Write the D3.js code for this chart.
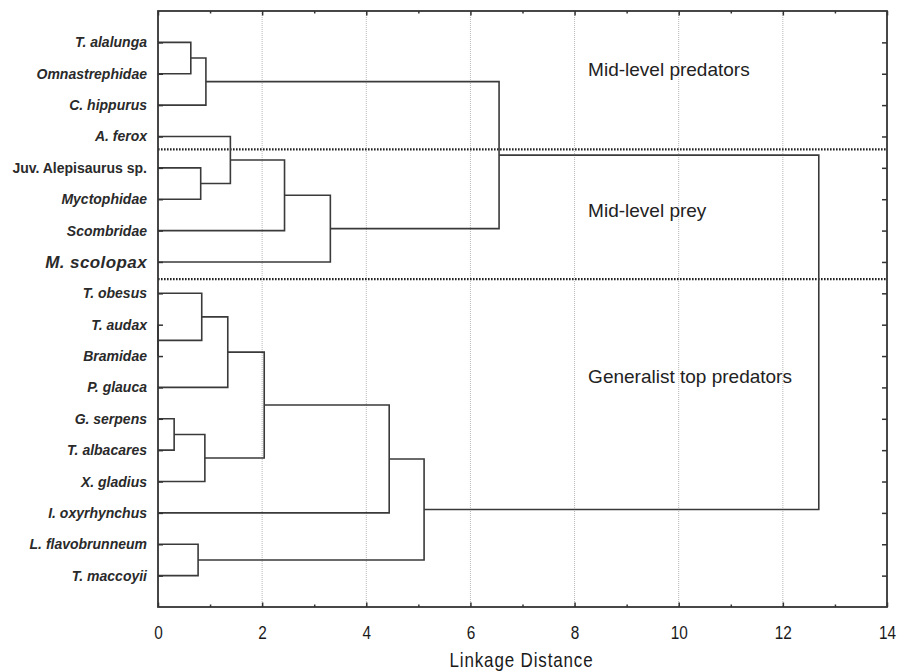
<!DOCTYPE html>
<html>
<head>
<meta charset="utf-8">
<script src="https://cdn.jsdelivr.net/npm/d3@7"></script>
<style>
  html, body { margin: 0; padding: 0; background: #fff; }
  svg { display: block; }
</style>
</head>
<body>
<svg id="chart" width="907" height="672"></svg>
<script>
// ---- data ----
const leaves = ["T. alalunga", "Omnastrephidae", "C. hippurus", "A. ferox",
  "Juv. Alepisaurus sp.", "Myctophidae", "Scombridae", "M. scolopax",
  "T. obesus", "T. audax", "Bramidae", "P. glauca", "G. serpens",
  "T. albacares", "X. gladius", "I. oxyrhynchus", "L. flavobrunneum", "T. maccoyii"];
const italicLeaf = [true, true, true, true, false, true, true, true, true, true, true, true, true, true, true, true, true, true];
// linkage: cluster ids >= 18 refer to earlier merges (18 + row index)
const mergeLeft   = [0, 18, 4, 3, 21, 22, 19, 9, 8, 26, 12, 28, 27, 30, 16, 31, 24];
const mergeRight  = [1, 2, 5, 20, 6, 7, 23, 10, 25, 11, 13, 14, 29, 15, 17, 32, 33];
const mergeHeight = [0.63, 0.92, 0.82, 1.39, 2.43, 3.31, 6.55, 0.0, 0.84, 1.34, 0.31, 0.90, 2.04, 4.44, 0.77, 5.11, 12.69];
const xTicksMajor = [0, 2, 4, 6, 8, 10, 12, 14];
const xTicksMinor = [1, 3, 5, 7, 9, 11, 13];
const xTitle = "Linkage Distance";
const separators = [3.41, 7.55];            // positions in leaf-index units
const groupNames = ["Mid-level predators", "Mid-level prey", "Generalist top predators"];
const groupPos   = [0.85, 5.34, 10.64];      // leaf-index units
const groupX     = 8.26;                     // linkage-distance units

// ---- layout ----
const W = 907, H = 672;
const margin = {left: 158, top: 11, right: 20, bottom: 65};
const svg = d3.select("#chart");
const x = d3.scaleLinear().domain([0, 14]).range([margin.left, W - margin.right]);
const y = d3.scaleLinear().domain([-1, leaves.length]).range([margin.top, H - margin.bottom]);
const ink = "#333";
const sans = "'Liberation Sans', Arial, sans-serif";

// gridlines
svg.append("g").selectAll("line").data(xTicksMajor.filter(d => d > 0 && d < 14)).join("line")
  .attr("x1", d => x(d)).attr("x2", d => x(d))
  .attr("y1", y.range()[0]).attr("y2", y.range()[1])
  .attr("stroke", "#b8b8b8").attr("stroke-width", 1).attr("stroke-dasharray", "1,1");

// separators
svg.append("g").selectAll("line").data(separators).join("line")
  .attr("x1", x(0)).attr("x2", x(14))
  .attr("y1", d => y(d)).attr("y2", d => y(d))
  .attr("stroke", "#222").attr("stroke-width", 2.2).attr("stroke-dasharray", "1.6,1.4");

// dendrogram
const nodeY = leaves.map((_, i) => i);
const nodeH = leaves.map(() => 0);
mergeLeft.forEach((a, k) => {
  const b = mergeRight[k], h = mergeHeight[k];
  nodeY.push((nodeY[a] + nodeY[b]) / 2);
  nodeH.push(h);
});
const links = mergeLeft.map((a, k) => {
  const b = mergeRight[k], h = mergeHeight[k];
  return [[nodeH[a], nodeY[a]], [h, nodeY[a]], [h, nodeY[b]], [nodeH[b], nodeY[b]]];
});
const line = d3.line().x(d => x(d[0])).y(d => y(d[1]));
svg.append("g").selectAll("path").data(links).join("path")
  .attr("d", line).attr("fill", "none").attr("stroke", "#3a3a3a").attr("stroke-width", 1.6);

// axes
const bottom = svg.append("g").attr("transform", `translate(0,${y.range()[1]})`)
  .call(d3.axisBottom(x).tickValues(xTicksMajor).tickSizeInner(-4.5).tickSizeOuter(0).tickFormat(d3.format("d")));
bottom.selectAll("text").attr("font-family", sans).attr("font-size", 18.5).attr("fill", "#1a1a1a")
  .attr("y", 0).attr("dy", 0).attr("transform", "translate(0,32) scale(0.83,1)");
svg.append("g").attr("transform", `translate(0,${y.range()[1]})`)
  .call(d3.axisBottom(x).tickValues(xTicksMinor).tickSizeInner(-2.5).tickSizeOuter(0).tickFormat(""));
svg.append("g").attr("transform", `translate(0,${y.range()[0]})`)
  .call(d3.axisTop(x).tickValues(xTicksMajor).tickSizeInner(-4.5).tickSizeOuter(0).tickFormat(""));
svg.append("g").attr("transform", `translate(0,${y.range()[0]})`)
  .call(d3.axisTop(x).tickValues(xTicksMinor).tickSizeInner(-2.5).tickSizeOuter(0).tickFormat(""));

const left = svg.append("g").attr("transform", `translate(${x(0)},0)`)
  .call(d3.axisLeft(y).tickValues(d3.range(leaves.length)).tickSizeInner(-5).tickSizeOuter(0).tickPadding(11).tickFormat(i => leaves[i]));
left.selectAll("text")
  .attr("font-family", sans)
  .attr("font-size", d => leaves[d] === "M. scolopax" ? 17 : 14)
  .attr("font-weight", "bold")
  .attr("letter-spacing", d => leaves[d] === "M. scolopax" ? 0.4 : 0)
  .attr("font-style", d => italicLeaf[d] ? "italic" : "normal")
  .attr("fill", "#2a2a2a");
svg.append("g").attr("transform", `translate(${x(14)},0)`)
  .call(d3.axisRight(y).tickValues(d3.range(leaves.length)).tickSizeInner(-5).tickSizeOuter(0).tickFormat(""));

svg.selectAll(".domain").remove();
svg.selectAll(".tick line").attr("stroke", ink).attr("stroke-width", 1.5);

// frame
svg.append("rect").attr("x", x(0)).attr("y", y.range()[0])
  .attr("width", x(14) - x(0)).attr("height", y.range()[1] - y.range()[0])
  .attr("fill", "none").attr("stroke", ink).attr("stroke-width", 1.8);

// axis title
svg.append("text")
  .attr("transform", `translate(${(x(0) + x(14)) / 2 - 1},667) scale(0.85,1)`)
  .attr("text-anchor", "middle").attr("font-family", sans).attr("font-size", 20)
  .attr("letter-spacing", 1).attr("fill", "#1a1a1a").text(xTitle);

// group labels
svg.append("g").selectAll("text").data(groupNames).join("text")
  .attr("x", x(groupX)).attr("y", (d, i) => y(groupPos[i]))
  .attr("dy", "0.35em")
  .attr("font-family", sans).attr("font-size", 19)
  .attr("fill", "#222").text(d => d);
</script>
</body>
</html>
